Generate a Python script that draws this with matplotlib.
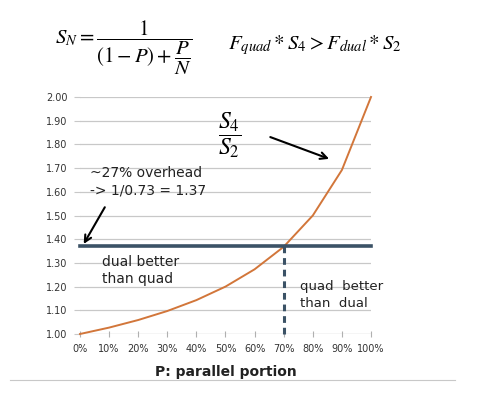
import matplotlib
matplotlib.use("Agg")
import matplotlib.pyplot as plt

plt.rcParams['mathtext.fontset'] = 'stix'

parallel_pct = [0, 10, 20, 30, 40, 50, 60, 70, 80, 90, 100]
ratio_s4_s2 = [1.000, 1.027, 1.059, 1.097, 1.143, 1.200, 1.273, 1.368, 1.500, 1.692, 2.000]
threshold = 1.37
crossover_pct = 70
x_tick_labels = [f"{v}%" for v in parallel_pct]
y_ticks = [1.00, 1.10, 1.20, 1.30, 1.40, 1.50, 1.60, 1.70, 1.80, 1.90, 2.00]

fig = plt.figure(figsize=(5.02, 3.98), dpi=100)
ax = fig.add_axes([80/502, 1-334/398, 291/502, 237/398])

line_col = '#3b5266'
curve_col = '#d2763a'
grid_col = '#c8c8c8'
txt_col = '#333333'

ax.set_xlim(0, 100)
ax.set_ylim(1.0, 2.0)
ax.set_yticks(y_ticks)
ax.set_yticklabels([f"{v:.2f}" for v in y_ticks], fontsize=7, color=txt_col)
ax.set_xticks(parallel_pct)
ax.set_xticklabels(x_tick_labels, fontsize=7, color=txt_col)
for yv in y_ticks[1:]:
    ax.axhline(yv, color=grid_col, lw=0.9, zorder=0)
ax.axhline(1.0, color='#b0b0b0', lw=0.9, zorder=0)
for s in ax.spines.values():
    s.set_visible(False)
ax.tick_params(axis='y', length=4, color=grid_col, pad=5)
ax.tick_params(axis='x', length=4, color='#b0b0b0', direction='inout', pad=5)

ax.plot(parallel_pct, ratio_s4_s2, color=curve_col, lw=1.4, clip_on=False, zorder=3)
ax.plot([0, 100], [threshold, threshold], color=line_col, lw=2.6, zorder=4, clip_on=False)
ax.plot([crossover_pct, crossover_pct], [1.0, threshold], color=line_col, lw=2.2,
        ls=(0, (2.2, 1.6)), zorder=4, clip_on=False)

ax.set_xlabel("P: parallel portion", fontsize=10, fontweight='bold', color='#222222', labelpad=8)

ax.text(3.5, 1.681, "~27% overhead", fontsize=10, color='#222222', va='center')
ax.text(3.5, 1.605, "-> 1/0.73 = 1.37", fontsize=10, color='#222222', va='center')
ax.annotate("", xy=(0.8, 1.37), xytext=(9, 1.545),
            arrowprops=dict(arrowstyle='->', color='black', lw=1.5, mutation_scale=12))

ax.text(7.5, 1.303, "dual better", fontsize=10, color='#222222', va='center')
ax.text(7.5, 1.232, "than quad", fontsize=10, color='#222222', va='center')
ax.text(75.5, 1.20, "quad  better", fontsize=9.5, color='#222222', va='center')
ax.text(75.5, 1.128, "than  dual", fontsize=9.5, color='#222222', va='center')

ax.text(51.5, 1.84, r"$\dfrac{S_4}{S_2}$", fontsize=17, color='black', ha='center', va='center')
ax.annotate("", xy=(86.5, 1.735), xytext=(64.5, 1.835),
            arrowprops=dict(arrowstyle='->', color='black', lw=1.5, mutation_scale=12))

fig.text(55/502, 1-48/398, r"$S_N = \dfrac{1}{(1-P)+\dfrac{P}{N}}$", fontsize=15,
         va='center', ha='left')
fig.text(228/502, 1-45/398, r"$F_{quad} * S_4 > F_{dual} * S_2$", fontsize=15,
         va='center', ha='left')

fig.add_artist(plt.Line2D([10/502, 455/502], [1-380/398, 1-380/398],
                          color='#c8c8c8', lw=0.8, transform=fig.transFigure))

fig.savefig("out.png", dpi=100, facecolor='white')
